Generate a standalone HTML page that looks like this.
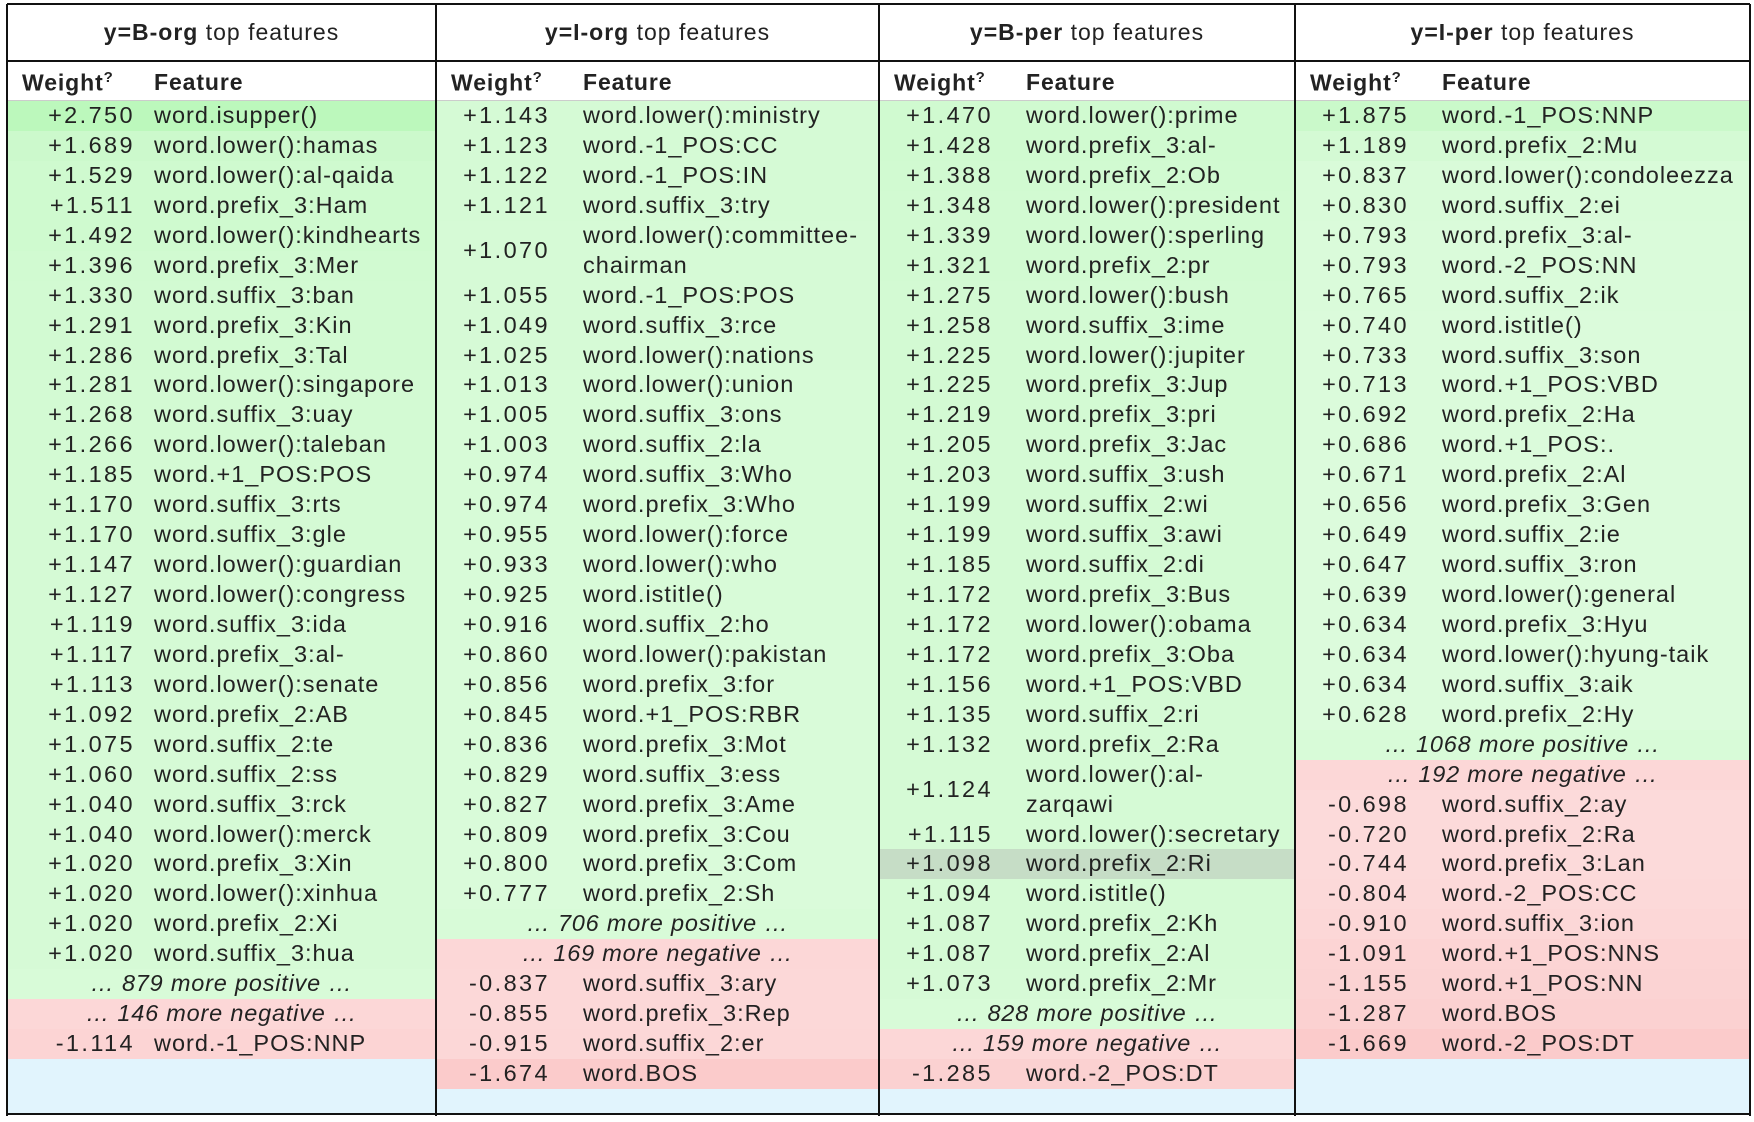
<!DOCTYPE html>
<html><head><meta charset="utf-8">
<style>
html,body{margin:0;padding:0;background:#fff;width:1754px;height:1122px;overflow:hidden}
body{font-family:"Liberation Sans",sans-serif;color:#222;position:relative}
.col{position:absolute;top:4px;height:1110px;background:#e1f4fd;}
.title{position:absolute;left:0;right:0;top:0;height:56px;line-height:56px;text-align:center;font-size:23px;letter-spacing:1px;background:#fff;border-bottom:2px solid #111}
.sub{position:absolute;left:0;right:0;top:58px;height:38px;background:#fff;border-bottom:2px solid #ccc;font-size:23px;letter-spacing:0.9px;font-weight:bold}
.sub span{position:absolute;top:7px}
.sub sup{font-size:15px}
.rows{position:absolute;left:0;right:0;top:97px}
.row{position:relative;height:29.95px;font-size:23.5px}
.row .w{position:absolute;top:0;text-align:right;line-height:29.95px;letter-spacing:2.4px}
.row .f{position:absolute;top:0;line-height:29.95px;letter-spacing:1px;white-space:nowrap}
.row.dbl{height:59.9px}
.row.dbl .w{line-height:59.9px}
.row .e{position:absolute;left:0;right:0;text-align:center;font-style:italic;line-height:29.95px;letter-spacing:0.8px}
.vl{position:absolute;top:4px;height:1112px;width:2px;background:#111}
.hl{position:absolute;left:7px;width:1743px;height:2px;background:#111}
</style></head>
<body>
<div id="root"></div>
<script>
const titles = ["B-org","I-org","B-per","I-per"];
const colLefts = [7,436,879,1295,1750];
const weightRight = [128,114,114,114];
const col1Weights = [2.750,1.689,1.529,1.511,1.492,1.396,1.330,1.291,1.286,1.281,1.268,1.266,1.185,1.170,1.170,1.147,1.127,1.119,1.117,1.113,1.092,1.075,1.060,1.040,1.040,1.020,1.020,1.020,1.020];
const col1Features = ["word.isupper()","word.lower():hamas","word.lower():al-qaida","word.prefix_3:Ham","word.lower():kindhearts","word.prefix_3:Mer","word.suffix_3:ban","word.prefix_3:Kin","word.prefix_3:Tal","word.lower():singapore","word.suffix_3:uay","word.lower():taleban","word.+1_POS:POS","word.suffix_3:rts","word.suffix_3:gle","word.lower():guardian","word.lower():congress","word.suffix_3:ida","word.prefix_3:al-","word.lower():senate","word.prefix_2:AB","word.suffix_2:te","word.suffix_2:ss","word.suffix_3:rck","word.lower():merck","word.prefix_3:Xin","word.lower():xinhua","word.prefix_2:Xi","word.suffix_3:hua"];
const col1More = [879,146];
const col1NegWeights = [-1.114];
const col1NegFeatures = ["word.-1_POS:NNP"];

const col2Weights = [1.143,1.123,1.122,1.121,1.070,1.055,1.049,1.025,1.013,1.005,1.003,0.974,0.974,0.955,0.933,0.925,0.916,0.860,0.856,0.845,0.836,0.829,0.827,0.809,0.800,0.777];
const col2Features = ["word.lower():ministry","word.-1_POS:CC","word.-1_POS:IN","word.suffix_3:try","word.lower():committee-|chairman","word.-1_POS:POS","word.suffix_3:rce","word.lower():nations","word.lower():union","word.suffix_3:ons","word.suffix_2:la","word.suffix_3:Who","word.prefix_3:Who","word.lower():force","word.lower():who","word.istitle()","word.suffix_2:ho","word.lower():pakistan","word.prefix_3:for","word.+1_POS:RBR","word.prefix_3:Mot","word.suffix_3:ess","word.prefix_3:Ame","word.prefix_3:Cou","word.prefix_3:Com","word.prefix_2:Sh"];
const col2More = [706,169];
const col2NegWeights = [-0.837,-0.855,-0.915,-1.674];
const col2NegFeatures = ["word.suffix_3:ary","word.prefix_3:Rep","word.suffix_2:er","word.BOS"];

const col3Weights = [1.470,1.428,1.388,1.348,1.339,1.321,1.275,1.258,1.225,1.225,1.219,1.205,1.203,1.199,1.199,1.185,1.172,1.172,1.172,1.156,1.135,1.132,1.124,1.115,1.098,1.094,1.087,1.087,1.073];
const col3Features = ["word.lower():prime","word.prefix_3:al-","word.prefix_2:Ob","word.lower():president","word.lower():sperling","word.prefix_2:pr","word.lower():bush","word.suffix_3:ime","word.lower():jupiter","word.prefix_3:Jup","word.prefix_3:pri","word.prefix_3:Jac","word.suffix_3:ush","word.suffix_2:wi","word.suffix_3:awi","word.suffix_2:di","word.prefix_3:Bus","word.lower():obama","word.prefix_3:Oba","word.+1_POS:VBD","word.suffix_2:ri","word.prefix_2:Ra","word.lower():al-|zarqawi","word.lower():secretary","word.prefix_2:Ri","word.istitle()","word.prefix_2:Kh","word.prefix_2:Al","word.prefix_2:Mr"];
const col3More = [828,159];
const col3NegWeights = [-1.285];
const col3NegFeatures = ["word.-2_POS:DT"];

const col4Weights = [1.875,1.189,0.837,0.830,0.793,0.793,0.765,0.740,0.733,0.713,0.692,0.686,0.671,0.656,0.649,0.647,0.639,0.634,0.634,0.634,0.628];
const col4Features = ["word.-1_POS:NNP","word.prefix_2:Mu","word.lower():condoleezza","word.suffix_2:ei","word.prefix_3:al-","word.-2_POS:NN","word.suffix_2:ik","word.istitle()","word.suffix_3:son","word.+1_POS:VBD","word.prefix_2:Ha","word.+1_POS:.","word.prefix_2:Al","word.prefix_3:Gen","word.suffix_2:ie","word.suffix_3:ron","word.lower():general","word.prefix_3:Hyu","word.lower():hyung-taik","word.suffix_3:aik","word.prefix_2:Hy"];
const col4More = [1068,192];
const col4NegWeights = [-0.698,-0.720,-0.744,-0.804,-0.910,-1.091,-1.155,-1.287,-1.669];
const col4NegFeatures = ["word.suffix_2:ay","word.prefix_2:Ra","word.prefix_3:Lan","word.-2_POS:CC","word.suffix_3:ion","word.+1_POS:NNS","word.+1_POS:NN","word.BOS","word.-2_POS:DT"];

const cols = [
 [col1Weights,col1Features,col1More,col1NegWeights,col1NegFeatures],
 [col2Weights,col2Features,col2More,col2NegWeights,col2NegFeatures],
 [col3Weights,col3Features,col3More,col3NegWeights,col3NegFeatures],
 [col4Weights,col4Features,col4More,col4NegWeights,col4NegFeatures]
];
const maxW = 2.75;
function bg(w){
  const a = Math.min(1, Math.abs(w)/maxW);
  const L = 94.5 - 9*a;
  return w>=0 ? `hsl(120,80%,${L}%)` : `hsl(0,85%,${L}%)`;
}
function fmt(w){return (w>=0?'+':'')+w.toFixed(3);}
const root = document.getElementById('root');
cols.forEach((c,ci)=>{
  const left = colLefts[ci], width = colLefts[ci+1]-left;
  const col = document.createElement('div');
  col.className='col';
  
  
  col.style.left = left+'px'; col.style.width = width+'px';
  const t = document.createElement('div'); t.className='title';
  
  
  t.innerHTML = '<b>y='+titles[ci]+'</b> top features';
  col.appendChild(t);
  const s = document.createElement('div'); s.className='sub';
  
  
  s.innerHTML = '<span style="left:15px">Weight<sup>?</sup></span><span style="left:147px">Feature</span>';
  col.appendChild(s);
  const rows = document.createElement('div'); rows.className='rows';
  col.appendChild(rows);
  function addRow(w,f){
    const r = document.createElement('div');
    r.className='row'+(f.includes('|')?' dbl':'');
    
    
    r.style.background = (ci==2 && w===1.098) ? '#c6ddc6' : bg(w);
    r.innerHTML = '<span class="w" style="right:'+(width-weightRight[ci])+'px">'+fmt(w)+'</span><span class="f" style="left:147px">'+f.split('|').join('<br>')+'</span>';
    rows.appendChild(r);
  }
  function addMore(n,pos){
    const r = document.createElement('div'); r.className='row';
    
    
    r.style.background = pos ? bg(0.9) : bg(-0.9);
    r.innerHTML = '<span class="e">… '+n+' more '+(pos?'positive':'negative')+' …</span>';
    rows.appendChild(r);
  }
  c[0].forEach((w,i)=>addRow(w,c[1][i]));
  addMore(c[2][0],true);
  addMore(c[2][1],false);
  c[3].forEach((w,i)=>addRow(w,c[4][i]));
  root.appendChild(col);
});
colLefts.forEach((x,i)=>{
  const v=document.createElement('div'); v.className='vl';
  
  
  v.style.left=(x-1)+'px'; root.appendChild(v);
});
[3,1113].forEach(y=>{
  const h=document.createElement('div'); h.className='hl';
  
  
  h.style.top=y+'px'; root.appendChild(h);
});
</script>
</body></html>
